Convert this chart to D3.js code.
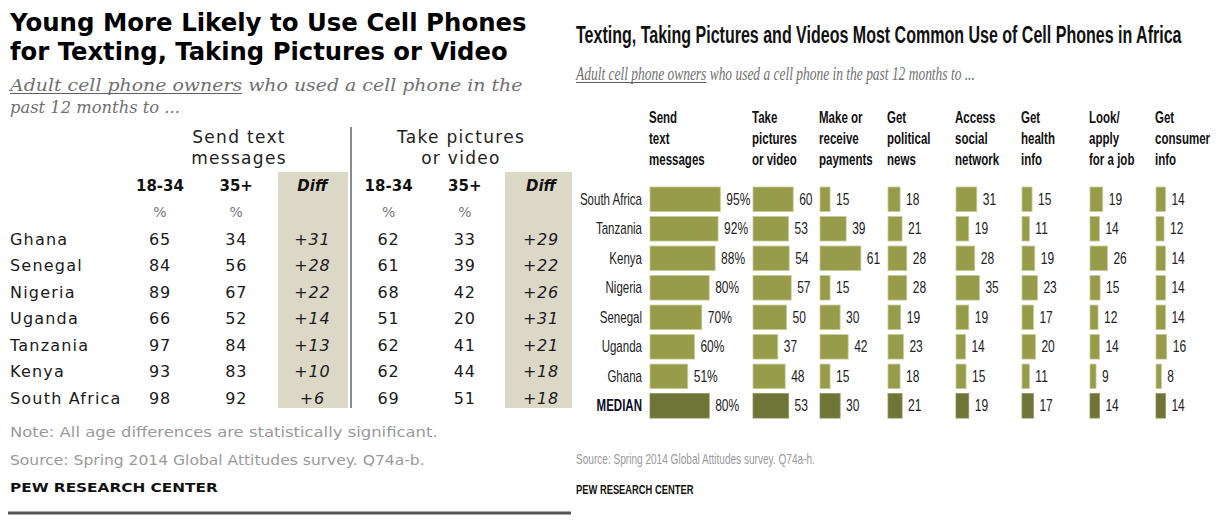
<!DOCTYPE html>
<html><head><meta charset="utf-8">
<script src="https://cdn.jsdelivr.net/npm/d3@7"></script>
<style>
html,body{margin:0;padding:0;background:#fff;}
svg{display:block;}
</style>
</head><body>
<svg id="chart" width="1219" height="522"></svg>
<script>
// ---------- Left table data ----------
const tableCountries = ["Ghana","Senegal","Nigeria","Uganda","Tanzania","Kenya","South Africa"];
const text1834 = [65,84,89,66,97,93,98];
const text35   = [34,56,67,52,84,83,92];
const textDiff = [31,28,22,14,13,10,6];
const pic1834  = [62,61,68,51,62,62,69];
const pic35    = [33,39,42,20,41,44,51];
const picDiff  = [29,22,26,31,21,18,18];
const tableColumns = ["18-34","35+","Diff","18-34 ","35+ ","Diff "];

// ---------- Right chart data ----------
const countries = ["South Africa","Tanzania","Kenya","Nigeria","Senegal","Uganda","Ghana","MEDIAN"];
const sendText     = [95,92,88,80,70,60,51,80];
const takePictures = [60,53,54,57,50,37,48,53];
const payments     = [15,39,61,15,30,42,15,30];
const political    = [18,21,28,28,19,23,18,21];
const socialNet    = [31,19,28,35,19,14,15,19];
const healthInfo   = [15,11,19,23,17,20,11,17];
const jobInfo      = [19,14,26,15,12,14,9,14];
const consumerInfo = [14,12,14,14,14,16,8,14];
const activityHeaders = [
  ["Send","text","messages"],
  ["Take","pictures","or video"],
  ["Make or","receive","payments"],
  ["Get","political","news"],
  ["Access","social","network"],
  ["Get","health","info"],
  ["Look/","apply","for a job"],
  ["Get","consumer","info"]
];
const activitySeries = [sendText,takePictures,payments,political,socialNet,healthInfo,jobInfo,consumerInfo];

const svg = d3.select("#chart");
const wide = "'DejaVu Sans', Verdana, sans-serif";
const arial = "'Liberation Sans', Arial, sans-serif";
const serif = "'DejaVu Serif', Georgia, serif";
const tserif = "'Liberation Serif', 'Times New Roman', serif";
const SQ = 0.72; // horizontal squeeze for condensed look

// condensed text helper
function ctext(g, x, y, str, o={}) {
  return g.append("text")
    .attr("transform", `translate(${x},${y}) scale(${o.sq||SQ},1)`)
    .attr("dy", o.dy||null)
    .attr("text-anchor", o.anchor||"start")
    .attr("font-family", o.family||arial)
    .attr("font-size", o.size||16)
    .attr("font-weight", o.bold?"bold":"normal")
    .attr("font-style", o.italic?"italic":"normal")
    .attr("fill", o.fill||"#222")
    .text(str);
}
// text scaled horizontally to a given width; optional underline of first n chars
function fitText(g, x, y, str, width, o={}, underlineChars=0) {
  const t = g.append("text").attr("x",0).attr("y",0)
    .attr("font-family", o.family||arial).attr("font-size", o.size||16)
    .attr("font-weight", o.bold?"bold":"normal").attr("font-style", o.italic?"italic":"normal")
    .attr("fill", o.fill||"#222").text(str);
  const len = t.node().getComputedTextLength();
  const s = width/len;
  t.attr("transform", `translate(${x},${y}) scale(${s},1)`);
  if (underlineChars>0) {
    const end = t.node().getEndPositionOfChar(underlineChars-1).x;
    g.append("line").attr("x1",x).attr("x2",x+end*s).attr("y1",y+2.5).attr("y2",y+2.5)
      .attr("stroke",o.uline||"#606060").attr("stroke-width",1.2);
  }
  return t;
}

// ================= LEFT PANEL =================
const L = svg.append("g");
fitText(L,10,31,"Young More Likely to Use Cell Phones",517,{family:wide,bold:true,size:25,fill:"#000"});
fitText(L,10,60,"for Texting, Taking Pictures or Video",498,{family:wide,bold:true,size:25,fill:"#000"});
fitText(L,10,91,"Adult cell phone owners who used a cell phone in the",513,{family:serif,italic:true,size:17,fill:"#707070"},23);
fitText(L,10,113,"past 12 months to ...",170,{family:serif,italic:true,size:17,fill:"#707070"});

const colX = d3.scalePoint().domain(tableColumns).range([160,541]);
const rowY = d3.scalePoint().domain(["head","pct",...tableCountries]).range([186,398]);

// shaded Diff columns
[["Diff",278,348],["Diff ",505,572]].forEach(([k,x0,x1])=>{
  L.append("rect").attr("x",x0).attr("y",172).attr("width",x1-x0).attr("height",236).attr("fill","#dcd8c8");
});
// divider
L.append("line").attr("x1",351).attr("x2",351).attr("y1",127).attr("y2",408).attr("stroke","#8a8a8a").attr("stroke-width",2);

// group headers
[["Send text","messages",239],["Take pictures","or video",461]].forEach(([a,b,cx])=>{
  L.append("text").attr("x",cx).attr("y",143).attr("text-anchor","middle").attr("font-family",wide).attr("font-size",17)
    .attr("letter-spacing",1.3).attr("fill","#222").text(a);
  L.append("text").attr("x",cx).attr("y",164).attr("text-anchor","middle").attr("font-family",wide).attr("font-size",17)
    .attr("letter-spacing",1.3).attr("fill","#222").text(b);
});
// column headers
tableColumns.forEach(c=>{
  const isDiff = c.trim()==="Diff";
  L.append("text").attr("x",colX(c)).attr("y",rowY("head")).attr("dy","0.35em").attr("text-anchor","middle")
    .attr("font-family",wide).attr("font-size",15).attr("font-weight","bold")
    .attr("font-style",isDiff?"italic":"normal").attr("fill","#111").text(c.trim());
  if(!isDiff){
    L.append("text").attr("x",colX(c)).attr("y",rowY("pct")).attr("dy","0.35em").attr("text-anchor","middle")
      .attr("font-family",wide).attr("font-size",14).attr("fill","#777").text("%");
  }
});
const tableSeries = [text1834,text35,textDiff,pic1834,pic35,picDiff];
tableCountries.forEach((c,i)=>{
  L.append("text").attr("x",10).attr("y",rowY(c)).attr("dy","0.35em").attr("font-family",wide)
    .attr("font-size",16).attr("letter-spacing",1.2).attr("fill","#1a1a1a").text(c);
  tableColumns.forEach((col,j)=>{
    const isDiff = col.trim()==="Diff";
    const v = tableSeries[j][i];
    L.append("text").attr("x",colX(col)).attr("y",rowY(c)).attr("dy","0.35em").attr("text-anchor","middle")
      .attr("font-family",wide).attr("font-size",16).attr("letter-spacing",0.8).attr("font-style",isDiff?"italic":"normal")
      .attr("fill","#1a1a1a").text(isDiff?"+"+v:v);
  });
});
fitText(L,10,437,"Note: All age differences are statistically significant.",428,{family:wide,size:14,fill:"#9a9a9a"});
fitText(L,10,465,"Source: Spring 2014 Global Attitudes survey. Q74a-b.",415,{family:wide,size:14,fill:"#9a9a9a"});
fitText(L,10,492,"PEW RESEARCH CENTER",208,{family:wide,size:13,bold:true,fill:"#111"});
L.append("line").attr("x1",8).attr("x2",571).attr("y1",513).attr("y2",513).attr("stroke","#555").attr("stroke-width",3);

// ================= RIGHT PANEL =================
const R = svg.append("g");
fitText(R,576,43,"Texting, Taking Pictures and Videos Most Common Use of Cell Phones in Africa",606,{bold:true,size:24,fill:"#111"});
fitText(R,576,80,"Adult cell phone owners who used a cell phone in the past 12 months to ...",399,{family:tserif,italic:true,size:19,fill:"#707070"},23);

const colStart = d3.scaleOrdinal().domain(d3.range(8)).range([650,753,820,888,956,1022,1090,1156]);
const y = d3.scaleBand().domain(countries).range([184.5,420.6]).paddingInner(0.17).paddingOuter(0.085);
const xScales = activitySeries.map((s,j)=> d3.scaleLinear().domain([0,100]).range([0, j===0?74:67]));

// headers
activityHeaders.forEach((lines,j)=>{
  lines.forEach((t,k)=>{
    ctext(R, colStart(j)-1, 123+k*21, t, {bold:true, fill:"#111"});
  });
});
// row labels
countries.forEach(c=>{
  const med = c==="MEDIAN";
  ctext(R, 642, y(c)+y.bandwidth()/2, c, {anchor:"end", dy:"0.35em", bold:med, fill: med?"#0d0d2a":"#222"});
});
// bars
activitySeries.forEach((series,j)=>{
  const x = xScales[j];
  const g = R.append("g");
  g.selectAll("rect").data(series).join("rect")
    .attr("x",colStart(j)).attr("y",(d,i)=>y(countries[i]))
    .attr("width",d=>x(d)).attr("height",y.bandwidth())
    .attr("fill",(d,i)=>countries[i]==="MEDIAN"?"#6f7537":"#969c4a")
    .attr("stroke",(d,i)=>countries[i]==="MEDIAN"?"#8e9360":"#c6cb95").attr("stroke-width",0.8);
  series.forEach((d,i)=>{
    ctext(g, colStart(j)+x(d)+6, y(countries[i])+y.bandwidth()/2, j===0? d+"%" : d, {dy:"0.35em", sq:0.75});
  });
});
ctext(R, 576, 464, "Source: Spring 2014 Global Attitudes survey. Q74a-h.", {size:14, fill:"#9a9a9a", sq:0.72});
ctext(R, 576, 494, "PEW RESEARCH CENTER", {size:13, bold:true, fill:"#111", sq:0.72});
</script>
</body></html>
